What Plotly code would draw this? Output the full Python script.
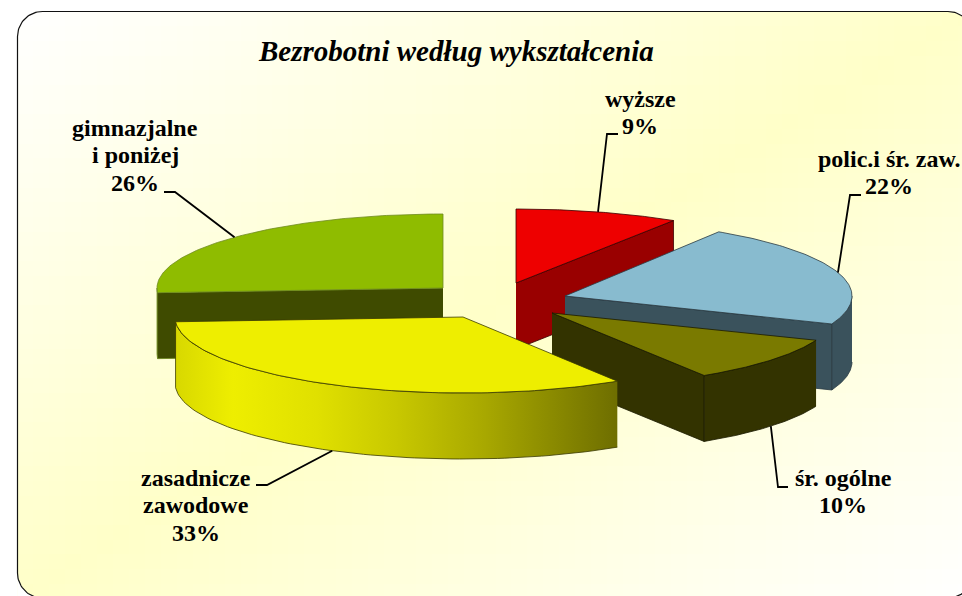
import numpy as np
import plotly.graph_objects as go

# --- data (clockwise from 12 o'clock) ---
categories = ["wyższe", "polic.i śr. zaw.", "śr. ogólne", "zasadnicze zawodowe", "gimnazjalne i poniżej"]
shares = [9, 22, 10, 33, 26]
label_lines = [["wyższe", "9%"], ["polic.i śr. zaw.", "22%"], ["śr. ogólne", "10%"],
               ["zasadnicze", "zawodowe", "33%"], ["gimnazjalne", "i poniżej", "26%"]]
title_text = "Bezrobotni według wykształcenia"

# --- geometry of the exploded, tilted pie (canvas pixels) ---
centers = [(516, 283), (565, 296), (552, 313), (463, 317), (443, 288)]
radii_x = [294, 287, 284, 288, 286]
radii_y = [74, 76, 74, 76, 74]
DEPTH = 66
top_colors = ["#ee0000", "#88bbcf", "#7a7a00", "#eeee00", "#8fbc00"]
wall_colors = ["#990000", "#3a525c", "#333300", "#a8a800", "#3f4b00"]
edge_colors = ["#3a0000", "#2a3a42", "#1a1a00", "#3a3a00", "#6f8a20"]
draw_order = [4, 0, 1, 2, 3]
label_x = [640, 889, 843, 196, 135]
label_first_baseline = [106, 166, 485, 485, 135]
LINE_STEP = 27.5
LABEL_SIZE = 24
elbows = [[(618, 134), (607, 134)], [(861, 195), (850, 195)], [(788, 487), (778, 487)],
          [(256, 485), (267, 485)], [(164, 192), (175, 192)]]
yellow_rim_scale = [[0, "#d8d800"], [0.13, "#eeee00"], [0.32, "#e0e000"], [0.5, "#c8c800"],
                    [0.7, "#a8a800"], [1, "#6e6e00"]]

W, H = 962, 596
L, T, R, B, RAD = 17.5, 11.5, 973, 598, 25

fractions = np.array(shares) / sum(shares)
starts = np.concatenate([[0], np.cumsum(fractions)[:-1]]) * 360
ends = np.cumsum(fractions) * 360


def ell(i, deg):
    t = np.radians(deg)
    cx, cy = centers[i]
    return cx + radii_x[i] * np.sin(t), cy - radii_y[i] * np.cos(t)


def poly(fig, xs, ys, fill, line, width=0.8, **kw):
    fig.add_trace(go.Scatter(x=list(xs), y=list(ys), mode="lines", fill="toself", fillcolor=fill,
                             line=dict(color=line, width=width), hoverinfo="skip", showlegend=False, **kw))


fig = go.Figure()

# background: diagonal white -> pale yellow -> white (bin edges keep it inside the frame)
ex_x = np.linspace(L, R, 61)
ex_y = np.linspace(T, B, 41)
gx = (ex_x[:-1] + ex_x[1:]) / 2
gy = (ex_y[:-1] + ex_y[1:]) / 2
u = (gx[None, :] - L) / (R - L) + (gy[:, None] - T) / (B - T)
fig.add_trace(go.Heatmap(x=ex_x, y=ex_y, z=1 - np.abs(u - 1), zmin=0, zmax=1, showscale=False,
                         colorscale=[[0, "#ffffff"], [1, "#ffffc8"]], hoverinfo="skip"))

# masks for the area outside the rounded frame, then the frame itself
def arc(cx, cy, a0, a1):
    a = np.radians(np.linspace(a0, a1, 24))
    return cx + RAD * np.cos(a), cy + RAD * np.sin(a)

corners = [((L + RAD, T + RAD), 180, 270, (L, T)), ((R - RAD, T + RAD), 270, 360, (R, T)),
           ((R - RAD, B - RAD), 0, 90, (R, B)), ((L + RAD, B - RAD), 90, 180, (L, B))]
fx, fy = [], []
for (c, a0, a1, pt) in corners:
    ax, ay = arc(c[0], c[1], a0, a1)
    poly(fig, list(ax) + [pt[0]], list(ay) + [pt[1]], "#ffffff", "#ffffff", 0.5)
    fx += list(ax)
    fy += list(ay)
fig.add_trace(go.Scatter(x=fx + fx[:1], y=fy + fy[:1], mode="lines", line=dict(color="#111111", width=1.2),
                         hoverinfo="skip", showlegend=False))

# pie slices, back to front
for i in draw_order:
    t0, t1 = starts[i], ends[i]
    cx, cy = centers[i]
    edge, wall = edge_colors[i], wall_colors[i]
    # radial cut faces that look towards the viewer
    for deg, sgn in ((t0, -1), (t1, 1)):
        if sgn * np.sin(np.radians(deg)) > 1e-6:
            ex, ey = ell(i, deg)
            poly(fig, [cx, ex, ex, cx], [cy, ey, ey + DEPTH, cy + DEPTH], wall, edge)
    # outer rim, front half only
    a0, a1 = max(t0, 90), min(t1, 270)
    if a1 > a0:
        th = np.linspace(a0, a1, 80)
        rx, ry = ell(i, th)
        kw = {}
        if top_colors[i] == "#eeee00":
            kw["fillgradient"] = dict(type="horizontal", colorscale=yellow_rim_scale)
        poly(fig, np.r_[rx, rx[::-1]], np.r_[ry, ry[::-1] + DEPTH], wall, edge, **kw)
    # top face
    th = np.linspace(t0, t1, 100)
    ex, ey = ell(i, th)
    poly(fig, np.r_[cx, ex, cx], np.r_[cy, ey, cy], top_colors[i], edge)

# leader lines: elbow -> middle of the slice's outer edge
for i in range(len(shares)):
    mid = (starts[i] + ends[i]) / 2
    mx, my = ell(i, mid)
    if 90 < mid < 270:
        my += DEPTH
    pts = elbows[i] + [(mx, my)]
    fig.add_trace(go.Scatter(x=[p[0] for p in pts], y=[p[1] for p in pts], mode="lines",
                             line=dict(color="#000000", width=1.8), hoverinfo="skip", showlegend=False))

font = "Liberation Serif"
annotations = []
for lines, x, base in zip(label_lines, label_x, label_first_baseline):
    for k, line in enumerate(lines):
        annotations.append(dict(x=x, y=base + k * LINE_STEP - 0.3 * LABEL_SIZE, text=f"<b>{line}</b>",
                                xref="x", yref="y", showarrow=False, xanchor="center", yanchor="middle",
                                font=dict(family=font, size=LABEL_SIZE, color="#000000")))
annotations.append(dict(x=455.5, y=51, text=f"<b><i>{title_text}</i></b>", xref="x", yref="y", showarrow=False,
                        xanchor="center", yanchor="middle", font=dict(family=font, size=29, color="#000000")))

fig.update_layout(width=W, height=H, margin=dict(l=0, r=0, t=0, b=0), paper_bgcolor="#ffffff",
                  plot_bgcolor="#ffffff", showlegend=False, annotations=annotations,
                  xaxis=dict(range=[0, W], visible=False, fixedrange=True),
                  yaxis=dict(range=[H, 0], visible=False, fixedrange=True))
fig.write_html("out.html", config=dict(displayModeBar=False),
               post_script="document.body.style.margin='0';")
